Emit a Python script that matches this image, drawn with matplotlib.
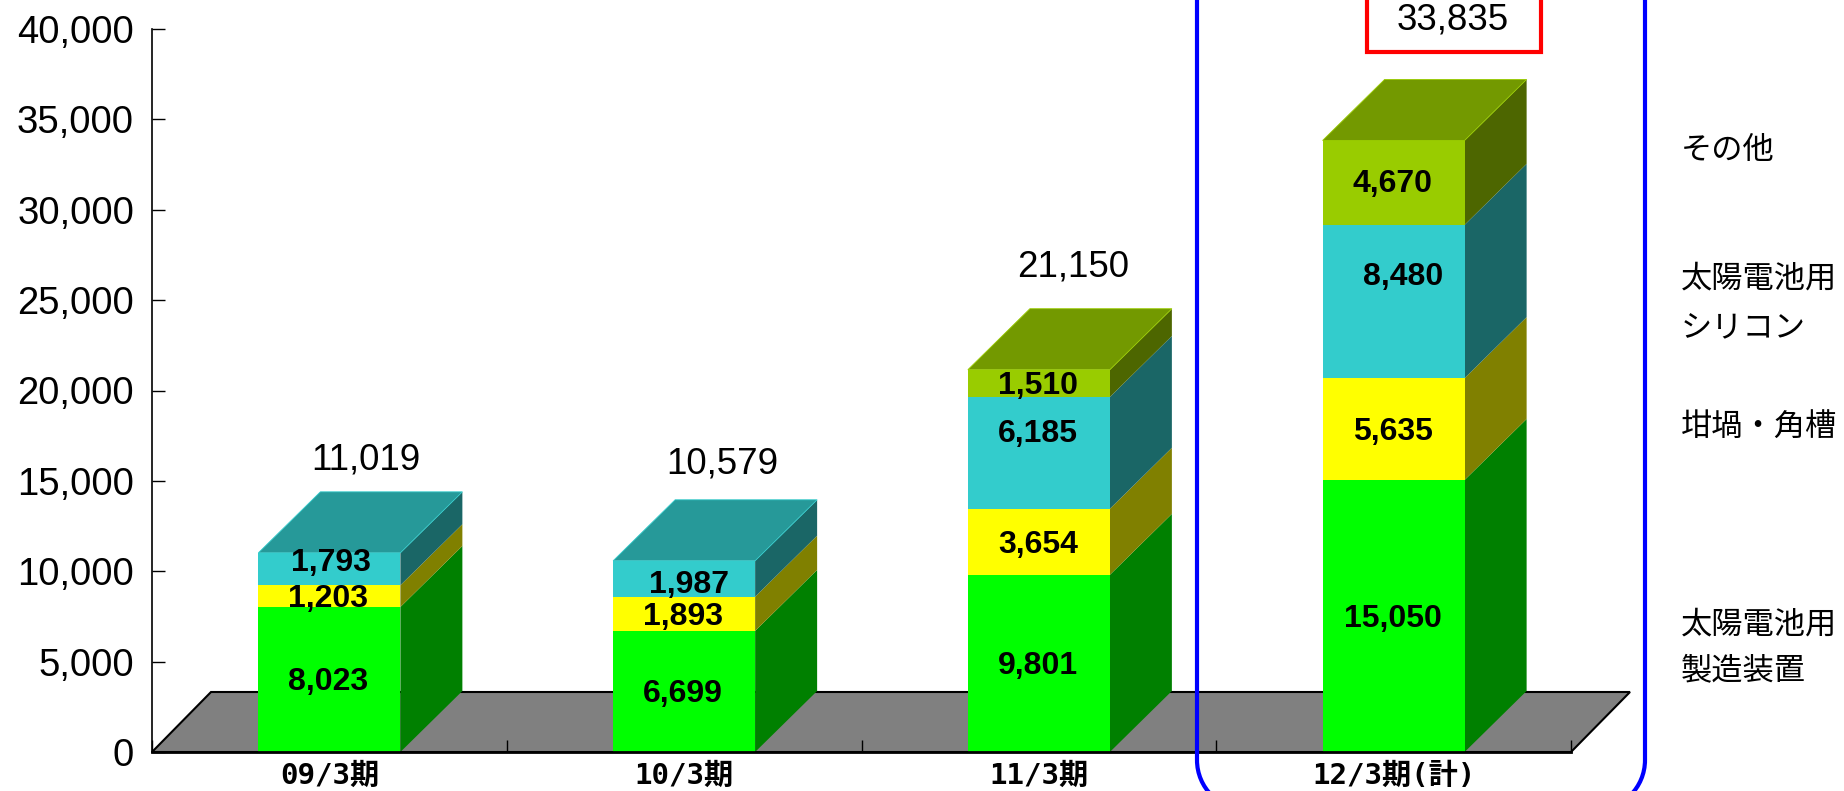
import matplotlib
matplotlib.use('Agg')
import matplotlib.pyplot as plt
from matplotlib.patches import Polygon, Rectangle, PathPatch
from matplotlib.path import Path

plt.rcParams['font.family'] = ['Liberation Sans', 'Noto Sans CJK JP']

# data
periods = ['09/3期', '10/3期', '11/3期', '12/3期(計)']
solar_equipment = [8023, 6699, 9801, 15050]
crucibles = [1203, 1893, 3654, 5635]
solar_silicon = [1793, 1987, 6185, 8480]
others = [0, 0, 1510, 4670]
totals = ['11,019', '10,579', '21,150', '33,835']
yticks = [0, 5000, 10000, 15000, 20000, 25000, 30000, 35000, 40000]

series = [solar_equipment, crucibles, solar_silicon, others]
front_colors = ['#00FF00', '#FFFF00', '#33CCCC', '#99CC00']
side_colors = ['#008000', '#808000', '#1A6666', '#4D6600']
top_colors = ['#00CC00', '#CCCC00', '#269999', '#739900']

# label nudges in pixels, the source chart has them moved by hand
nudge = {(0, 2): (3, 9), (1, 2): (6, -3), (2, 2): (0, 22), (3, 2): (10, 27), (3, 3): (0, 2)}
total_nudge = [(36, 93), (38, 97), (34, 103), (59, 120)]

W, H = 1844, 791
fig = plt.figure(figsize=(W / 100, H / 100), dpi=100)
x0, x1, y0, y1 = 152, 1571, 752, 29
ax = fig.add_axes([x0 / W, 1 - y0 / H, (x1 - x0) / W, (y0 - y1) / H])
ax.set_xlim(-0.5, 3.5)
ax.set_ylim(0, 40000)

# depth of the fake 3d, pixels turned into data units
px_x = 4 / (x1 - x0)
px_y = 40000 / (y0 - y1)
bar_dx, bar_dy = 62 * px_x, 61 * px_y
floor_dx, floor_dy = 59 * px_x, 60 * px_y
bar_width = 142 * px_x

# floor
ax.add_patch(Polygon([(-0.5, 0), (3.5, 0), (3.5 + floor_dx, floor_dy), (-0.5 + floor_dx, floor_dy)],
                     facecolor='#808080', edgecolor='black', lw=1.5, clip_on=False, zorder=1))

bottoms = [0, 0, 0, 0]
for s, values in enumerate(series):
    for i, v in enumerate(values):
        if v == 0:
            continue
        b = bottoms[i]
        right = i + bar_width / 2
        ax.bar(i, v, bar_width, bottom=b, color=front_colors[s], zorder=3)
        ax.add_patch(Polygon([(right, b), (right + bar_dx, b + bar_dy),
                              (right + bar_dx, b + v + bar_dy), (right, b + v)],
                             facecolor=side_colors[s], edgecolor='none', clip_on=False, zorder=2))
        dx, dy = nudge.get((i, s), (0, 0))
        ax.annotate(f'{v:,}', (i, b + v / 2), xytext=(dx - 1, dy - 3), textcoords='offset pixels',
                    ha='center', va='center', fontsize=23, fontweight='bold', zorder=5)
        bottoms[i] = b + v

# top faces and totals
for i, top in enumerate(bottoms):
    left = i - bar_width / 2
    last = max(s for s in range(4) if series[s][i] > 0)
    ax.add_patch(Polygon([(left, top), (left + bar_width, top),
                          (left + bar_width + bar_dx, top + bar_dy), (left + bar_dx, top + bar_dy)],
                         facecolor=top_colors[last], edgecolor=front_colors[last], lw=0.6,
                         clip_on=False, zorder=4))
    ax.annotate(totals[i], (i, top), xytext=total_nudge[i], textcoords='offset pixels',
                ha='center', va='center', fontsize=26.5, annotation_clip=False, zorder=5)

for side in ['top', 'right']:
    ax.spines[side].set_visible(False)
ax.spines['left'].set_linewidth(1.2)
ax.spines['bottom'].set_linewidth(2)
ax.spines['left'].set_zorder(6)
ax.spines['bottom'].set_zorder(6)
ax.set_yticks(yticks)
ax.set_yticklabels([f'{t:,}' for t in yticks])
ax.tick_params(axis='y', direction='in', length=9, width=1, labelsize=27.5, pad=13)
ax.set_xticks([-0.5, 0.5, 1.5, 2.5, 3.5])
ax.set_xticklabels([])
ax.tick_params(axis='x', which='major', direction='in', length=9, width=1)
ax.set_xticks([0, 1, 2, 3], minor=True)
ax.set_xticklabels(periods, minor=True, family=['DejaVu Sans Mono', 'Noto Sans CJK JP'],
                   fontweight='bold', fontsize=21)
ax.tick_params(axis='x', which='minor', length=0, pad=7)
ax.set_axisbelow(False)

# overlay in reference pixels for the hand drawn boxes and the legend words
over = fig.add_axes([0, 0, 1, 1], facecolor='none')
over.set_xlim(0, W)
over.set_ylim(H, 0)
over.axis('off')

# blue frame, only the sides and the start of the bottom corners show
r = 50
k = 0.5523 * r
for xs, sign in [(1197, 1), (1645, -1)]:
    verts = [(xs, -20), (xs, 760), (xs, 760 + k), (xs + sign * (r - k), 760 + r), (xs + sign * r, 760 + r)]
    codes = [Path.MOVETO, Path.LINETO, Path.CURVE4, Path.CURVE4, Path.CURVE4]
    over.add_patch(PathPatch(Path(verts, codes), facecolor='none', edgecolor='#0000FF', lw=3))

over.add_patch(Rectangle((1367, -20), 174, 72, facecolor='none', edgecolor='#FF0000', lw=3))

legend_words = ['その他', '太陽電池用', 'シリコン', '坩堝・角槽', '太陽電池用', '製造装置']
legend_y = [150, 279, 327, 427, 624, 670]
for word, y in zip(legend_words, legend_y):
    over.text(1681, y, word, fontsize=22.5, family='Noto Sans CJK JP', va='center', ha='left')

fig.savefig('out.png', dpi=100)
